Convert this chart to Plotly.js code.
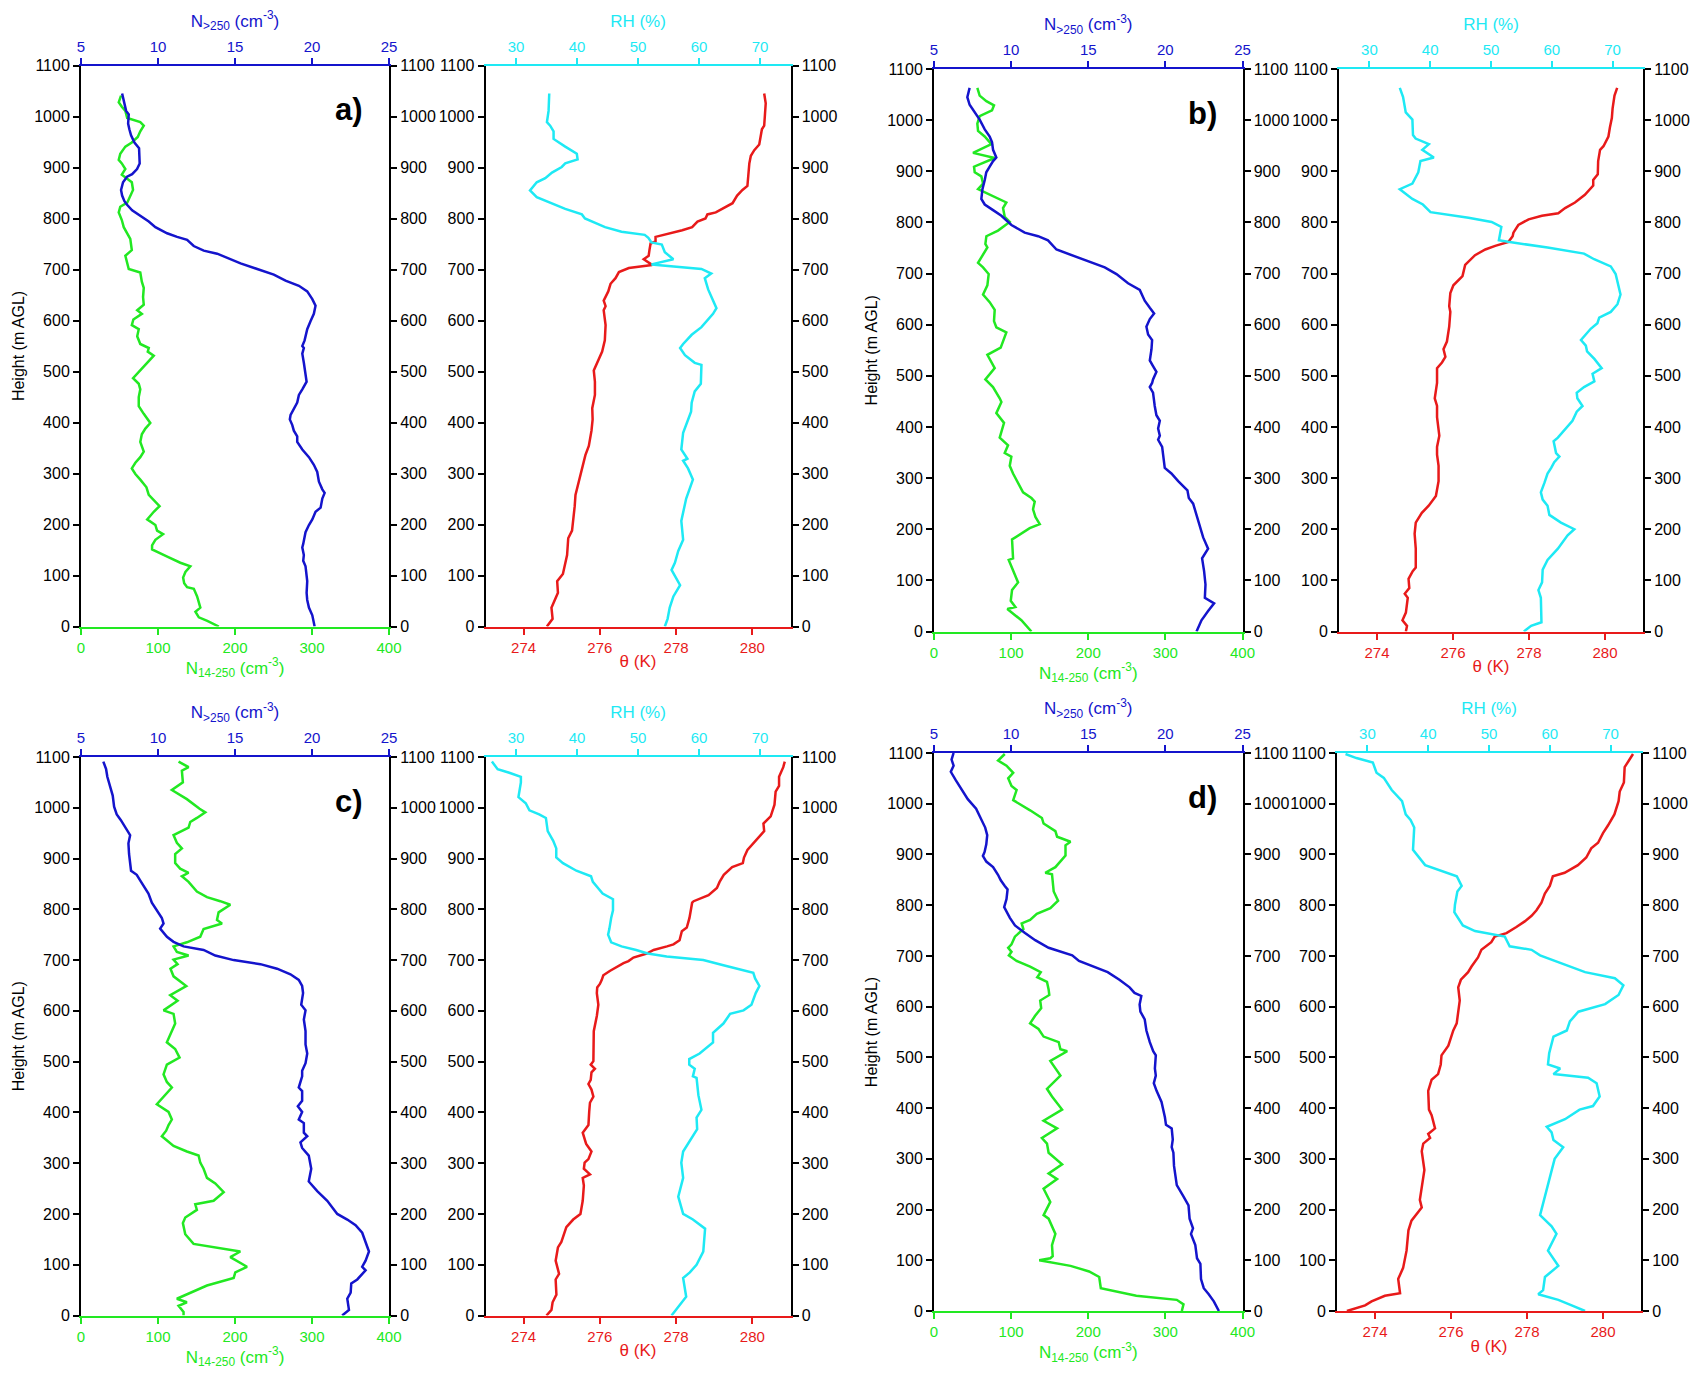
<!DOCTYPE html>
<html><head><meta charset="utf-8">
<script src="https://cdn.plot.ly/plotly-3.0.1.min.js"></script>
<style>html,body{margin:0;padding:0;background:#fff;}#chart{width:1698px;height:1373px;}</style>
</head><body><div id="chart"></div>
<script>
// ---------------- Panel a ----------------
const aN14_h = [1041,1028,1019,1011,997,989,982,971,960,949,941,927,915,908,897,886,878,871,856,845,831,823,812,797,783,760,738,727,701,694,676,664,646,631,620,613,602,591,583,569,554,546,539,531,520,502,487,476,465,450,432,417,399,388,377,362,343,332,321,310,299,288,273,258,247,236,225,210,199,188,181,170,159,151,137,125,118,107,96,85,77,74,59,37,29,18,11,0];
const aN14_v = [52,49,53,57.6,60,77,81.5,77,73.7,66,57.6,51,49,53,57.6,53,60,66,67.6,64,60,51,49,53,55.5,64,66,57.6,62,77,79,81.5,80.6,81.5,73,79,68,66,75,73,77,88,86.7,94.5,88,77,67.6,75,77,75,75,81.5,90,83.6,79,77,81.5,77,70.6,66,70.6,77,85,88,94.5,102,94.5,86,96.6,98.8,106.6,96.6,92.3,92.3,112,129,142,135.6,132.6,134,137.8,146.5,150.8,155,148.6,153,164,179];
const aN250_h = [1045,1026,1011,1004,986,975,963,949,938,923,908,897,887,882,871,856,845,834,827,816,805,794,783,771,764,758,746,737,731,721,712,701,690,678,668,657,642,629,613,599,583,561,550,546,535,517,498,480,465,454,439,428,415,406,395,384,373,362,347,332,317,303,284,269,262,251,233,225,210,199,185,162,155,140,129,118,103,89,66,52,37,22,0];
const aN250_v = [7.67,7.82,7.93,8.10,8.06,8.14,8.25,8.47,8.77,8.79,8.81,8.64,8.32,7.99,7.73,7.60,7.67,7.82,7.99,8.32,8.86,9.40,9.83,10.59,11.24,11.89,12.32,12.97,13.84,14.60,15.36,16.44,17.52,18.28,19.15,19.69,20.02,20.23,20.12,19.91,19.69,19.52,19.37,19.47,19.37,19.47,19.58,19.65,19.37,19.15,19.04,18.82,18.61,18.56,18.72,18.82,19.04,19.04,19.37,19.80,20.12,20.34,20.45,20.67,20.82,20.67,20.56,20.23,20.02,19.80,19.58,19.43,19.37,19.47,19.43,19.58,19.65,19.69,19.65,19.69,19.80,20.02,20.17];
const aTH_h = [1045,1026,1004,982,975,963,945,934,923,908,886,864,856,845,830,823,812,808,800,794,783,777,770,764,755,751,738,727,720,712,709,703,695,683,672,657,639,628,620,591,561,539,517,502,480,454,428,406,384,354,336,310,288,258,236,188,173,140,103,89,66,37,15,0];
const aTH_v = [280.31,280.35,280.33,280.31,280.25,280.22,280.18,280.05,279.96,279.92,279.9,279.87,279.74,279.6,279.48,279.3,279.04,278.82,278.77,278.56,278.42,278.16,277.81,277.46,277.46,277.33,277.3,277.28,277.15,277.33,277.37,276.76,276.5,276.41,276.28,276.22,276.1,276.15,276.1,276.15,276.13,276.06,275.93,275.84,275.87,275.87,275.8,275.81,275.78,275.71,275.62,275.53,275.45,275.36,275.34,275.27,275.17,275.14,275.03,274.88,274.9,274.73,274.76,274.61];
const aRH_h = [1045,1011,989,982,971,956,941,927,916,908,901,890,879,871,855,842,819,808,800,783,774,768,762,753,749,734,720,710,701,692,683,661,624,613,587,572,554,546,532,517,513,476,461,439,421,380,347,336,329,325,310,288,251,207,170,148,125,111,92,81,59,37,15,0];
const aRH_v = [35.45,35.34,35.07,35.6,36.16,36.16,38.07,39.97,40.1,38.07,37.5,35.9,34.8,33.4,32.3,33.4,38.07,40.8,41.3,44.6,47.3,51.1,51.7,52.2,53.9,54.4,55.8,52.2,60.4,62.0,60.95,61.5,62.86,62.3,60.4,58.8,57.4,56.9,57.7,59.3,60.4,60.3,59.3,58.8,58.7,57.4,57.1,57.7,58.1,57.4,58.2,59.0,57.9,57.1,57.4,56.6,56.05,55.5,56.3,56.9,55.8,55.2,54.85,54.4];

// ---------------- Panel b ----------------
const bN14_h = [1063,1048,1037,1029,1019,1008,993,979,968,953,936,926,909,898,890,876,865,857,842,839,828,811,801,784,773,758,751,721,712,699,677,659,644,629,607,595,585,555,541,515,493,478,456,449,427,408,379,364,349,342,324,309,272,261,254,239,224,210,202,180,143,140,96,81,60,48,44,22,0];
const bN14_v = [56.2,59.2,67.9,77.8,75.2,59.2,56.2,57.1,65.7,74.4,50.6,78.7,51.9,52.8,61.4,63.6,57.1,67.9,89.5,93.8,89.5,91.7,98.2,83.0,67.9,66.6,69.2,57.1,63.6,70.9,69.2,63.6,72.2,78.7,77.8,80.8,93.8,86.5,69.2,78.7,66.6,76.5,85.2,87.4,80.8,90.8,85.2,96.0,91.7,100.3,98.2,102.5,115.5,126.3,130.6,128.4,131.5,137.1,124.1,101.2,102.5,96.9,109.0,101.2,99.5,105.5,95.1,113.3,126.3];
const bN250_h = [1063,1045,1030,1015,1001,982,968,957,942,927,920,909,898,883,865,846,835,824,813,795,780,773,765,747,736,725,712,699,692,681,668,647,633,622,611,596,581,570,552,530,519,508,493,486,478,467,441,423,412,397,383,375,361,342,320,309,294,276,261,250,228,206,184,162,143,118,92,66,55,40,22,0];
const bN250_v = [7.31,7.16,7.31,7.64,7.96,8.29,8.61,8.76,8.83,9.04,8.83,8.61,8.39,8.29,8.14,8.07,8.29,8.83,9.37,10.02,10.88,11.75,12.39,12.94,13.91,14.99,16.07,16.83,17.15,17.58,18.34,18.66,18.99,19.27,18.99,18.77,18.88,19.14,19.1,18.99,19.2,19.42,19.2,19.14,18.99,19.2,19.31,19.42,19.64,19.53,19.64,19.53,19.79,19.85,19.96,20.39,20.83,21.43,21.52,21.8,22.02,22.23,22.45,22.77,22.38,22.51,22.6,22.56,23.16,22.77,22.34,22.02];
const bTH_h = [1063,1048,1023,1004,986,968,949,942,920,894,883,872,854,839,828,818,813,806,795,780,773,762,754,747,736,717,695,688,677,662,636,625,596,567,552,537,526,515,486,471,456,441,419,383,361,346,324,294,265,246,232,213,191,162,125,118,103,85,74,66,37,22,11,0];
const bTH_v = [280.32,280.25,280.2,280.18,280.13,280.09,279.96,279.87,279.82,279.81,279.69,279.69,279.47,279.21,278.95,278.77,278.34,277.99,277.72,277.59,277.57,277.46,277.11,276.85,276.58,276.32,276.25,276.15,276.01,275.93,275.9,275.93,275.9,275.84,275.75,275.8,275.71,275.58,275.58,275.55,275.52,275.58,275.58,275.64,275.58,275.58,275.62,275.62,275.55,275.36,275.18,275.02,274.99,275.02,275.02,274.94,274.83,274.85,274.73,274.81,274.76,274.67,274.79,274.76];
const bRH_h = [1063,1045,1015,1001,971,964,953,942,927,920,898,876,865,846,835,820,809,801,791,765,762,751,739,728,714,699,659,640,625,614,603,592,570,559,548,533,515,504,489,478,467,456,441,430,412,394,379,372,349,342,331,320,309,291,272,258,246,228,213,200,188,162,140,121,96,81,66,18,11,0];
const bRH_v = [35.0,35.54,35.98,37.07,37.17,37.6,39.78,38.7,40.6,38.4,38.04,37.07,35.0,37.07,38.8,40.05,46.3,50.1,51.7,51.3,52.8,59.3,65.3,66.96,69.7,70.5,71.3,70.8,69.7,67.8,67.5,66.4,64.8,65.6,65.8,67.0,68.2,66.7,67.0,65.3,64.1,64.2,65.05,64.1,63.4,62.1,61.0,60.3,60.7,61.25,60.4,59.9,59.3,58.8,58.2,58.5,59.3,59.6,61.5,63.7,62.6,61.0,59.3,58.5,58.4,57.8,58.2,58.3,56.6,55.4];

// ---------------- Panel c ----------------
const cN14_h = [1091,1080,1073,1050,1035,1017,998,991,980,972,961,946,931,920,909,891,880,872,865,854,835,824,816,809,794,779,772,761,746,735,727,716,709,701,692,683,668,649,631,620,601,594,575,538,525,508,494,475,460,449,416,401,386,375,364,353,334,323,315,301,289,271,260,243,226,219,208,193,182,160,141,126,115,96,85,74,59,37,33,26,19,7,0];
const cN14_v = [126.7,139.7,131.0,132.3,118.0,137.5,154.0,161.4,150.5,141.9,139.7,120.2,124.5,131.0,122.3,122.3,128.8,139.7,131.0,139.7,150.5,163.6,180.9,193.9,178.7,176.6,183.1,159.2,154.9,137.5,120.2,124.5,139.7,120.2,125.4,116.2,120.2,136.7,115.9,125.4,107.2,120.2,122.3,111.5,122.3,128.0,111.5,107.2,111.5,118.0,98.5,113.7,118.0,113.7,110.6,105.0,120.2,137.5,152.7,154.9,159.2,163.6,174.4,185.3,172.2,148.4,150.5,135.4,132.3,135.4,146.2,206.9,193.9,215.6,200.4,198.3,163.6,131.0,124.5,137.5,126.7,133.2,133.2];
const cN250_h = [1091,1076,1061,1039,1024,1002,987,976,961,946,930,909,876,868,857,831,813,798,783,772,762,746,736,727,724,720,709,700,692,683,672,661,649,635,612,601,583,560,534,516,497,482,471,449,442,423,412,401,386,379,360,353,341,330,315,289,264,245,226,200,189,178,163,145,126,108,96,89,71,63,45,33,11,0];
const cN250_v = [6.45,6.63,6.71,6.89,7.06,7.15,7.32,7.58,7.86,8.19,8.08,8.12,8.25,8.62,8.84,9.38,9.6,9.92,10.25,10.36,10.14,10.58,11.01,11.66,12.31,12.96,13.72,14.91,16.65,17.73,18.6,19.14,19.36,19.42,19.3,19.58,19.47,19.58,19.58,19.69,19.58,19.36,19.36,19.14,19.36,19.36,19.08,19.36,19.14,19.47,19.47,19.69,19.25,19.36,19.79,19.95,19.79,20.34,20.99,21.64,22.29,22.83,23.26,23.48,23.7,23.48,23.26,23.48,22.94,22.55,22.51,22.29,22.4,21.96];
const cTH_h = [1091,1080,1061,1043,1032,1006,983,969,954,932,917,902,891,883,868,854,842,828,816,813,783,764,757,739,731,727,720,713,705,698,694,679,670,661,653,646,635,612,590,560,531,501,494,486,479,464,456,445,431,419,401,375,360,338,323,308,301,289,278,271,256,226,200,189,174,145,134,108,82,71,41,26,11,0];
const cTH_v = [280.85,280.81,280.7,280.7,280.61,280.58,280.48,280.29,280.31,280.04,279.87,279.78,279.75,279.47,279.25,279.14,279.07,278.85,278.46,278.42,278.35,278.28,278.15,278.09,277.93,277.76,277.41,277.23,276.88,276.75,276.62,276.27,276.09,276.05,276.0,275.93,275.92,275.96,275.92,275.84,275.83,275.83,275.76,275.87,275.78,275.76,275.7,275.78,275.83,275.74,275.72,275.7,275.55,275.64,275.78,275.7,275.6,275.58,275.74,275.55,275.58,275.55,275.49,275.3,275.12,274.99,274.9,274.84,274.93,274.84,274.86,274.76,274.73,274.6];
const cRH_h = [1091,1076,1069,1061,1050,1021,1009,995,987,980,954,935,920,902,891,876,865,854,831,820,798,783,761,750,735,727,720,713,707,700,690,675,664,649,635,612,601,594,575,557,538,516,505,494,486,471,468,434,405,390,367,349,323,301,271,234,200,189,171,126,100,85,74,37,19,11,0];
const cRH_v = [26.05,26.99,28.9,30.8,30.8,30.4,31.6,32.2,33.8,34.9,35.2,36.1,36.6,36.6,37.7,39.9,42.3,42.6,44.2,45.9,45.9,45.6,45.3,45.1,45.6,47.3,49.7,51.6,54.7,60.7,64.0,68.9,69.2,69.9,69.3,68.6,67.3,65.1,64.0,62.3,62.3,60.1,58.4,58.4,59.3,59.0,59.6,59.9,60.4,59.6,59.7,58.8,57.4,57.1,57.4,56.6,57.4,59.0,61.0,60.7,59.6,58.5,57.4,57.9,56.8,56.3,55.5];

// ---------------- Panel d ----------------
const dN14_h = [1098,1085,1075,1061,1050,1035,1027,1007,987,972,961,946,935,925,918,898,875,864,861,827,809,794,783,771,764,753,738,723,716,708,701,690,679,668,658,649,634,623,612,597,582,567,556,541,530,516,512,493,464,438,423,397,375,360,341,330,312,289,271,260,241,215,189,182,152,130,108,104,100,89,78,67,45,30,22,13,0];
const dN14_v = [91.8,83.1,94.0,102.7,96.2,100.5,107.1,102.7,124.6,139.9,142.1,157.4,159.6,177.0,170.5,170.5,157.4,144.3,153.0,155.2,160.9,150.9,133.3,124.6,113.7,115.9,104.9,100.5,96.2,100.5,97.1,107.1,124.6,138.4,133.9,146.5,148.6,149.5,137.7,139.0,131.1,124.6,135.5,142.1,161.7,163.9,172.7,150.8,163.9,146.5,153.0,166.1,142.1,159.6,139.9,146.5,148.6,166.1,148.6,159.6,142.1,150.8,142.1,148.6,157.4,153.0,153.9,150.8,136.4,177.0,201.1,214.2,216.3,262.3,314.8,323.5,321.3];
const dN250_h = [1100,1087,1075,1063,1046,1031,1009,990,968,953,938,920,905,897,886,875,860,849,838,831,812,796,775,760,745,731,716,708,701,690,679,668,653,638,627,621,604,590,575,553,530,512,504,478,464,449,434,412,382,367,360,338,323,312,286,248,226,208,182,163,152,130,104,93,63,45,33,19,0];
const dN250_v = [6.27,6.14,6.27,6.09,6.42,6.75,7.19,7.73,8.06,8.32,8.45,8.39,8.28,8.17,8.39,8.83,9.15,9.33,9.59,9.77,9.7,9.55,9.92,10.25,10.9,11.56,12.43,13.31,13.96,14.4,15.27,16.26,17.02,17.68,18.0,18.44,18.33,18.38,18.66,18.77,18.99,19.21,19.38,19.32,19.38,19.25,19.43,19.75,19.97,20.04,20.41,20.48,20.41,20.52,20.56,20.74,21.17,21.5,21.57,21.79,21.66,21.94,22.05,22.27,22.31,22.49,22.81,23.14,23.47];
const dTH_h = [1098,1083,1072,1042,1024,1005,979,957,942,923,912,894,879,864,857,838,823,805,790,779,768,757,745,738,727,712,697,679,668,653,638,612,590,567,553,523,504,486,467,456,434,397,386,360,349,341,330,315,278,245,219,204,178,159,119,85,63,35,30,19,11,0];
const dTH_v = [280.79,280.65,280.57,280.55,280.44,280.41,280.3,280.13,280.0,279.87,279.69,279.56,279.34,278.99,278.68,278.6,278.47,278.38,278.25,278.12,277.94,277.72,277.46,277.15,277.06,276.8,276.71,276.54,276.45,276.26,276.19,276.23,276.19,276.15,276.06,275.93,275.75,275.73,275.66,275.49,275.4,275.42,275.49,275.58,275.4,275.45,275.27,275.23,275.3,275.24,275.18,275.23,274.96,274.88,274.83,274.74,274.61,274.66,274.26,273.91,273.74,273.26];
const dRH_h = [1098,1090,1081,1061,1051,1027,1005,979,968,953,909,879,857,838,827,801,786,760,749,742,738,719,712,701,686,668,656,642,623,605,590,571,553,541,508,486,478,467,460,449,423,404,397,378,363,352,337,323,300,263,211,189,167,152,119,89,67,41,33,22,11,0];
const dRH_v = [26.4,28.2,30.9,31.5,32.7,34.0,35.7,36.3,37.1,37.7,37.5,39.5,44.7,45.5,44.8,44.4,44.3,45.7,47.7,50.7,52.6,53.4,57.0,58.4,61.9,65.8,70.7,72.1,71.3,69.1,64.7,63.3,62.8,60.6,59.9,59.7,61.7,60.6,66.3,67.7,68.2,67.1,64.9,62.5,59.5,60.3,60.6,62.2,60.8,60.0,58.9,58.4,60.3,61.1,59.7,61.4,59.2,58.9,58.1,61.4,63.6,65.8];

// ---------------- Axis tick labels ----------------
const heightTicks = [0,100,200,300,400,500,600,700,800,900,1000,1100];
const n14Ticks = [0,100,200,300,400];
const n250Ticks = [5,10,15,20,25];
const thetaTicks = [274,276,278,280];
const rhTicks = [30,40,50,60,70];
const panelLabels = ['a)','b)','c)','d)'];

// ---------------- Drawing ----------------
const W = 1698, H = 1373;
const F = 'Liberation Sans, Arial, Helvetica, sans-serif';
const COL = {blue:'#1414cc', green:'#22e822', red:'#e81a1a', cyan:'#1ee9f4', black:'#000000'};

const kinds = {
  N: {bot:{range:[0,400], ticks:n14Ticks, color:COL.green, title:'N<sub>14-250</sub> (cm<sup>-3</sup>)'},
      top:{range:[5,25], ticks:n250Ticks, color:COL.blue, title:'N<sub>&gt;250</sub> (cm<sup>-3</sup>)'}},
  T: {bot:{range:[273,281], ticks:thetaTicks, color:COL.red, title:'θ (K)'},
      top:{range:[25,75], ticks:rhTicks, color:COL.cyan, title:'RH (%)'}}
};

const subplots = [
  {x:[81,389],    y:[65.5,626.5], kind:'N', ytitle:true,  bot:[aN14_h,aN14_v], top:[aN250_h,aN250_v]},
  {x:[485.5,790.5], y:[65.5,626.5], kind:'T', ytitle:false, bot:[aTH_h,aTH_v],   top:[aRH_h,aRH_v]},
  {x:[934,1242.5],  y:[69,631.5],   kind:'N', ytitle:true,  bot:[bN14_h,bN14_v], top:[bN250_h,bN250_v]},
  {x:[1339,1643],   y:[69,631.5],   kind:'T', ytitle:false, bot:[bTH_h,bTH_v],   top:[bRH_h,bRH_v]},
  {x:[81,389],    y:[757,1315.5], kind:'N', ytitle:true,  bot:[cN14_h,cN14_v], top:[cN250_h,cN250_v]},
  {x:[485.5,790.5], y:[757,1315.5], kind:'T', ytitle:false, bot:[cTH_h,cTH_v],   top:[cRH_h,cRH_v]},
  {x:[934,1242.5],  y:[753,1311],   kind:'N', ytitle:true,  bot:[dN14_h,dN14_v], top:[dN250_h,dN250_v]},
  {x:[1337,1641],   y:[753,1311],   kind:'T', ytitle:false, bot:[dTH_h,dTH_v],   top:[dRH_h,dRH_v]}
];

const layout = {
  width: W, height: H, margin:{l:0,r:0,t:0,b:0},
  paper_bgcolor:'#fff', plot_bgcolor:'#fff', showlegend:false,
  font:{family:F, size:16, color:'#000'},
  annotations: []
};
const traces = [];
const id = n => (n === 1 ? '' : String(n));

function xAxisBase(spec){
  return {range:spec.range, tickvals:spec.ticks, ticktext:spec.ticks.map(String), ticks:'outside', ticklen:6, tickwidth:2,
    tickcolor:spec.color, showline:true, linecolor:spec.color, linewidth:2, showgrid:false, zeroline:false,
    tickfont:{family:F, size:15, color:spec.color}, fixedrange:true};
}
function yAxisBase(){
  return {range:[0,1100], tickvals:heightTicks, ticks:'outside', ticklen:6, tickwidth:2, tickcolor:'#000',
    showline:true, linecolor:'#000', linewidth:2, showgrid:false, zeroline:false,
    tickfont:{family:F, size:16, color:'#000'}, fixedrange:true};
}

subplots.forEach((sp, s) => {
  const bx = 2*s+1, tx = 2*s+2, ly = 2*s+1, ry = 2*s+2;
  const k = kinds[sp.kind];
  const xd = [sp.x[0]/W, sp.x[1]/W];
  const yd = [1 - sp.y[1]/H, 1 - sp.y[0]/H];

  layout['xaxis'+id(bx)] = Object.assign(xAxisBase(k.bot), {domain:xd, anchor:'y'+id(ly), side:'bottom',
    title:{text:k.bot.title, font:{family:F, size:17, color:k.bot.color}, standoff:1}});
  layout['xaxis'+id(tx)] = Object.assign(xAxisBase(k.top), {overlaying:'x'+id(bx), anchor:'y'+id(ly), side:'top',
    title:{text:k.top.title, font:{family:F, size:17, color:k.top.color}, standoff:6}});
  const yl = Object.assign(yAxisBase(), {domain:yd, anchor:'x'+id(bx), side:'left'});
  if (sp.ytitle) yl.title = {text:'Height (m AGL)', font:{family:F, size:16, color:'#000'}, standoff:6};
  layout['yaxis'+id(ly)] = yl;
  layout['yaxis'+id(ry)] = Object.assign(yAxisBase(), {overlaying:'y'+id(ly), anchor:'x'+id(bx), side:'right'});

  traces.push({type:'scatter', mode:'lines', x:sp.bot[1], y:sp.bot[0], xaxis:'x'+id(bx), yaxis:'y'+id(ly),
    line:{color:k.bot.color, width:2.5}, hoverinfo:'skip'});
  traces.push({type:'scatter', mode:'lines', x:sp.top[1], y:sp.top[0], xaxis:'x'+id(tx), yaxis:'y'+id(ry),
    line:{color:k.top.color, width:2.5}, hoverinfo:'skip'});

  if (sp.kind === 'N') {
    layout.annotations.push({text:'<b>'+panelLabels[s/2]+'</b>', xref:'paper', yref:'paper',
      x:(sp.x[1]-24)/W, y:1-(sp.y[0]+44)/H, xanchor:'right', yanchor:'middle', showarrow:false,
      font:{family:F, size:31, color:'#000'}});
  }
});

Plotly.newPlot('chart', traces, layout, {displayModeBar:false, staticPlot:true});
</script>
</body></html>
